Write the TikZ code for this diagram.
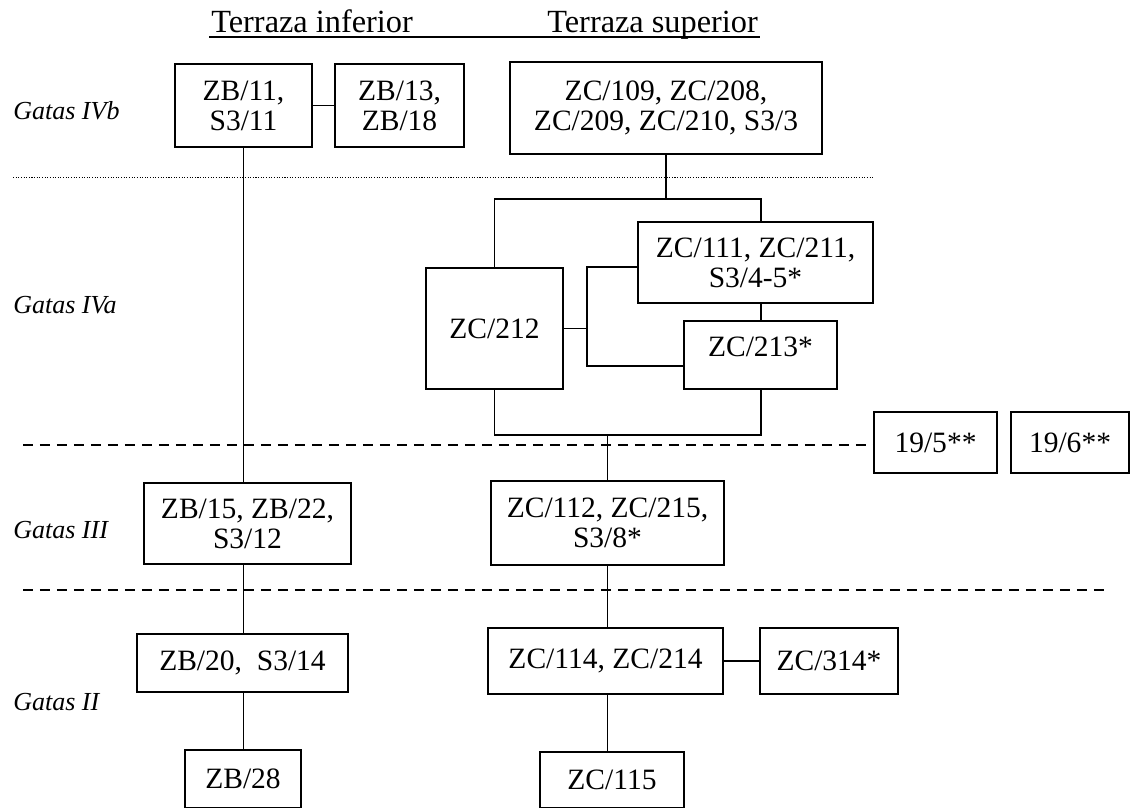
\documentclass[tikz,border=0pt]{standalone}
\usepackage{fontspec}
\setmainfont{Liberation Serif}
\usetikzlibrary{calc}
\begin{document}
\begin{tikzpicture}[x=0.02cm,y=-0.02cm,
		caja/.style 2 args={draw,line width=1.1pt,inner sep=0pt,align=center,
			minimum width=#1*0.02cm,minimum height=#2*0.02cm,font=\fontsize{16.8}{17}\selectfont},
		fase/.style={anchor=base west,inner sep=0pt,font=\fontsize{14.8}{16}\selectfont\itshape},
		terraza/.style={anchor=base west,inner sep=0pt,font=\fontsize{18.4}{20}\selectfont},
		linea/.style={line width=0.9pt},
		rayado/.style={line width=0.9pt,dash pattern=on 0.2cm off 0.14cm},
		punteado/.style={line width=0.5pt,dash pattern=on 0.6pt off 0.9pt}]
			\useasboundingbox (0,0) rectangle (1131,807);
			\node[terraza] (inf) at (211,33) {Terraza inferior};
			\node[terraza] (sup) at (547,33) {Terraza superior};
			\draw[line width=0.6pt] ($(inf.base west)+(-2,4)$) -- ($(sup.base east)+(2,4)$);
			\node[fase] (g4b) at (13,120) {Gatas IVb};
			\node[fase] (g4a) at (13,313) {Gatas IVa};
			\node[fase] (g3) at (13,538) {Gatas III};
			\node[fase] (g2) at (13,710) {Gatas II};
			\node[caja={137}{83}] (zb11) at (243.5,105.5) {ZB/11,\\S3/11};
			\node[caja={129}{83}] (zb13) at (399.5,105.5) {ZB/13,\\ZB/18};
			\node[caja={312}{92}] (zc109) at (666,108) {ZC/109, ZC/208,\\ZC/209, ZC/210, S3/3};
			\node[caja={137}{121}] (zc212) at (494.5,328.5) {ZC/212};
			\node[caja={235}{81}] (zc111) at (755.5,262.5) {ZC/111, ZC/211,\\S3/4-5*};
			\node[caja={153}{68},text depth=0.32cm] (zc213) at (760.5,355) {ZC/213*};
			\node[caja={123}{61}] (n195) at (935.5,442.5) {19/5**};
			\node[caja={118}{61}] (n196) at (1070,442.5) {19/6**};
			\node[caja={207}{81}] (zb15) at (247.5,523.5) {ZB/15, ZB/22,\\S3/12};
			\node[caja={233}{84}] (zc112) at (607.5,523) {ZC/112, ZC/215,\\S3/8*};
			\node[caja={211}{58}] (zb20) at (242.5,663) {ZB/20,\ \ S3/14};
			\node[caja={235}{66}] (zc114) at (605.5,661) {ZC/114, ZC/214};
			\node[caja={138}{66}] (zc314) at (829,661) {ZC/314*};
			\node[caja={116}{58}] (zb28) at (243,779) {ZB/28};
			\node[caja={144}{56}] (zc115) at (612,780) {ZC/115};
			\coordinate (tl) at (494,199);
			\coordinate (tr) at (761,199);
			\coordinate (bl) at (494,435);
			\coordinate (br) at (761,435);
			\coordinate (jt) at (587,267);
			\coordinate (jb) at (587,366);
			\coordinate (d1) at (23,445);
			\draw[punteado] (13,177) -- (873,177);
			\draw[rayado] (d1) -- (d1 -| n195.west);
			\draw[rayado] (23,590) -- (1104,590);
			\draw[linea] (zb11) -- (zb13);
			\draw[linea] (zb11.south) -- (zb11.south |- zb15.north);
			\draw[linea] (zb15.south -| zb11) -- (zb20.north -| zb11);
			\draw[linea] (zb20.south -| zb11) -- (zb28.north -| zb11);
			\draw[linea] (zc109.south) -- (zc109.south |- tl);
			\draw[linea] (zc212.north) |- (tr) -- (tr |- zc111.north);
			\draw[linea] (zc111.south -| tr) -- (zc213.north -| tr);
			\draw[linea] (zc212.east) -- (zc212.east -| jt);
			\draw[linea] (zc111.west |- jt) -- (jt) -- (jb) -- (zc213.west |- jb);
			\draw[linea] (zc212.south) |- (br) -- (br |- zc213.south);
			\draw[linea] (zc112.north |- bl) -- (zc112.north);
			\draw[linea] (zc112.south) -- (zc112.south |- zc114.north);
			\draw[linea] (zc114.south -| zc112) -- (zc115.north -| zc112);
			\draw[linea] (zc114) -- (zc314);
		\end{tikzpicture}
\end{document}
